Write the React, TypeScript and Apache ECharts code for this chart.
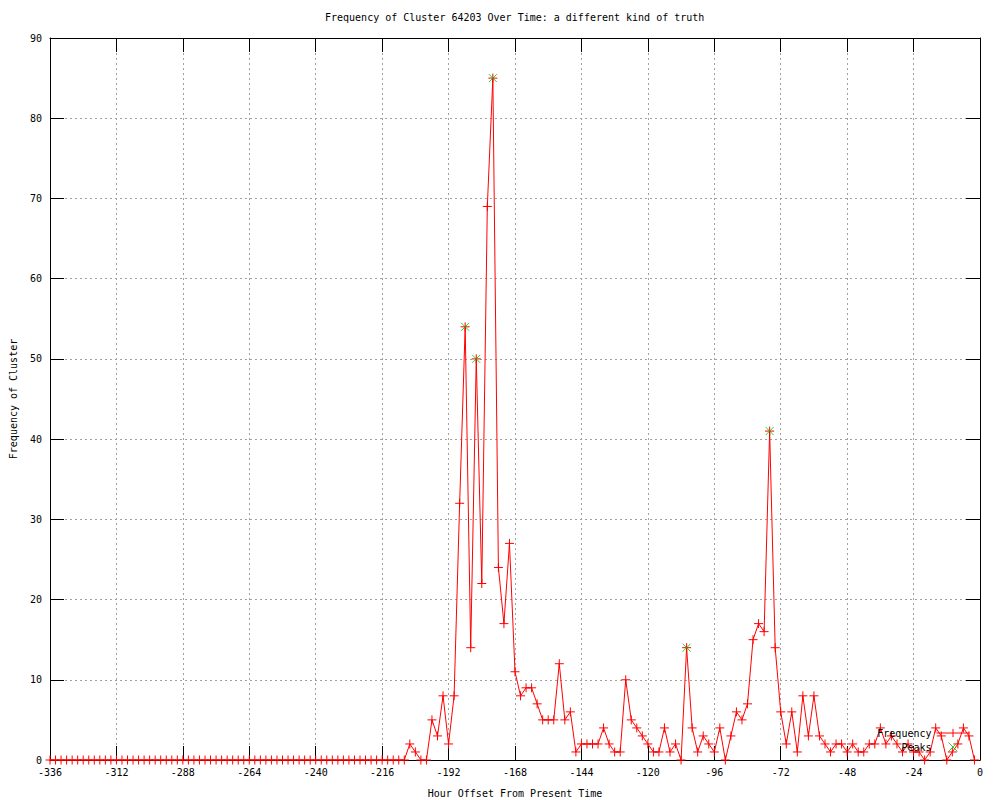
import React, { useEffect, useRef } from "react";
import * as echarts from "echarts";

const hours: number[] = [
  -336, -334, -332, -330, -328, -326, -324, -322, -320, -318, -316, -314,
  -312, -310, -308, -306, -304, -302, -300, -298, -296, -294, -292, -290,
  -288, -286, -284, -282, -280, -278, -276, -274, -272, -270, -268, -266,
  -264, -262, -260, -258, -256, -254, -252, -250, -248, -246, -244, -242,
  -240, -238, -236, -234, -232, -230, -228, -226, -224, -222, -220, -218,
  -216, -214, -212, -210, -208, -206, -204, -202, -200, -198, -196, -194,
  -192, -190, -188, -186, -184, -182, -180, -178, -176, -174, -172, -170,
  -168, -166, -164, -162, -160, -158, -156, -154, -152, -150, -148, -146,
  -144, -142, -140, -138, -136, -134, -132, -130, -128, -126, -124, -122,
  -120, -118, -116, -114, -112, -110, -108, -106, -104, -102, -100, -98,
  -96, -94, -92, -90, -88, -86, -84, -82, -80, -78, -76, -74,
  -72, -70, -68, -66, -64, -62, -60, -58, -56, -54, -52, -50,
  -48, -46, -44, -42, -40, -38, -36, -34, -32, -30, -28, -26,
  -24, -22, -20, -18, -16, -14, -12, -10, -8, -6, -4, -2,
];

const frequency: number[] = [
  0, 0, 0, 0, 0, 0, 0, 0, 0, 0, 0, 0,
  0, 0, 0, 0, 0, 0, 0, 0, 0, 0, 0, 0,
  0, 0, 0, 0, 0, 0, 0, 0, 0, 0, 0, 0,
  0, 0, 0, 0, 0, 0, 0, 0, 0, 0, 0, 0,
  0, 0, 0, 0, 0, 0, 0, 0, 0, 0, 0, 0,
  0, 0, 0, 0, 0, 2, 1, 0, 0, 5, 3, 8,
  2, 8, 32, 54, 14, 50, 22, 69, 85, 24, 17, 27,
  11, 8, 9, 9, 7, 5, 5, 5, 12, 5, 6, 1,
  2, 2, 2, 2, 4, 2, 1, 1, 10, 5, 4, 3,
  2, 1, 1, 4, 1, 2, 0, 14, 4, 1, 3, 2,
  1, 4, 0, 3, 6, 5, 7, 15, 17, 16, 41, 14,
  6, 2, 6, 1, 8, 3, 8, 3, 2, 1, 2, 2,
  1, 2, 1, 1, 2, 2, 4, 2, 3, 2, 1, 2,
  1, 1, 0, 1, 4, 3, 0, 1, 2, 4, 3, 0,
];

const peakHours: number[] = [-186, -182, -176, -106, -76];
const peakValues: number[] = [54, 50, 85, 14, 41];

const xTicks = { min: -336, max: 0, interval: 24 };
const yTicks = { min: 0, max: 90, interval: 10 };

const FONT = "DejaVu Sans Mono";
const RED = "#ff0000";
const GREEN = "#00c000";
const PLUS = "path://M0,4L8,4M4,0L4,8";
const CROSS = "path://M0,0L8,8M8,0L0,8";
const LINE_KEY = "path://M0,4L32,4M16,0L16,8";

export default function App() {
  const ref = useRef<HTMLDivElement>(null);

  useEffect(() => {
    document.body.style.margin = "0";
    if (!ref.current) return;
    const chart = echarts.init(ref.current, null, { renderer: "svg" });

    const textStyle = { fontFamily: FONT, fontSize: 10, color: "#000" };
    const axisLine = { show: true, onZero: false, lineStyle: { color: "#000", width: 1 } };
    const tick = { show: true, inside: true, length: 14, lineStyle: { color: "#000", width: 1 } };
    const grid = { show: true, lineStyle: { color: "#a0a0a0", width: 1, type: [2, 3] } };

    chart.setOption({
      animation: false,
      backgroundColor: "#ffffff",
      title: {
        text: "Frequency of Cluster 64203 Over Time: a different kind of truth",
        left: 325,
        top: 12,
        padding: 0,
        textStyle: { ...textStyle, fontWeight: "normal" },
      },
      grid: {
        left: 50,
        right: 20,
        top: 38,
        bottom: 40,
        containLabel: false,
        outerBoundsMode: "none",
      },
      legend: {
        orient: "vertical",
        align: "right",
        right: 30,
        top: 728,
        padding: 0,
        itemGap: 4,
        itemWidth: 33,
        itemHeight: 9,
        textStyle: { ...textStyle },
        data: [
          {
            name: "Frequency",
            icon: LINE_KEY,
            itemStyle: { color: RED, borderColor: RED, borderWidth: 1 },
          },
          {
            name: "Peaks",
            icon: CROSS,
            itemStyle: { color: GREEN, borderColor: GREEN, borderWidth: 1 },
          },
        ],
      },
      xAxis: [
        {
          type: "value",
          ...xTicks,
          position: "bottom",
          axisLine,
          axisTick: tick,
          axisLabel: { ...textStyle, margin: 7 },
          splitLine: grid,
          name: "Hour Offset From Present Time",
          nameLocation: "middle",
          nameGap: 28,
          nameTextStyle: textStyle,
        },
        {
          type: "value",
          ...xTicks,
          position: "top",
          axisLine,
          axisTick: tick,
          axisLabel: { show: false },
          splitLine: { show: false },
        },
      ],
      yAxis: [
        {
          type: "value",
          ...yTicks,
          position: "left",
          axisLine,
          axisTick: tick,
          axisLabel: { ...textStyle, margin: 8 },
          splitLine: grid,
          name: "Frequency of Cluster",
          nameLocation: "middle",
          nameGap: 32,
          nameTextStyle: textStyle,
        },
        {
          type: "value",
          ...yTicks,
          position: "right",
          axisLine,
          axisTick: tick,
          axisLabel: { show: false },
          splitLine: { show: false },
        },
      ],
      series: [
        {
          name: "Frequency",
          type: "line",
          xAxisIndex: 0,
          yAxisIndex: 0,
          data: hours.map((h, i) => [h, frequency[i]]),
          symbol: PLUS,
          symbolSize: 9,
          showSymbol: true,
          lineStyle: { color: RED, width: 1 },
          itemStyle: { color: RED, borderColor: RED, borderWidth: 1 },
          emphasis: { disabled: true },
          z: 2,
        },
        {
          name: "Peaks",
          type: "scatter",
          xAxisIndex: 0,
          yAxisIndex: 0,
          data: peakHours.map((h, i) => [h, peakValues[i]]),
          symbol: CROSS,
          symbolSize: 8,
          itemStyle: { color: GREEN, borderColor: GREEN, borderWidth: 1 },
          emphasis: { disabled: true },
          z: 3,
        },
      ],
    });

    return () => chart.dispose();
  }, []);

  return <div ref={ref} style={{ width: 1000, height: 800 }} />;
}
